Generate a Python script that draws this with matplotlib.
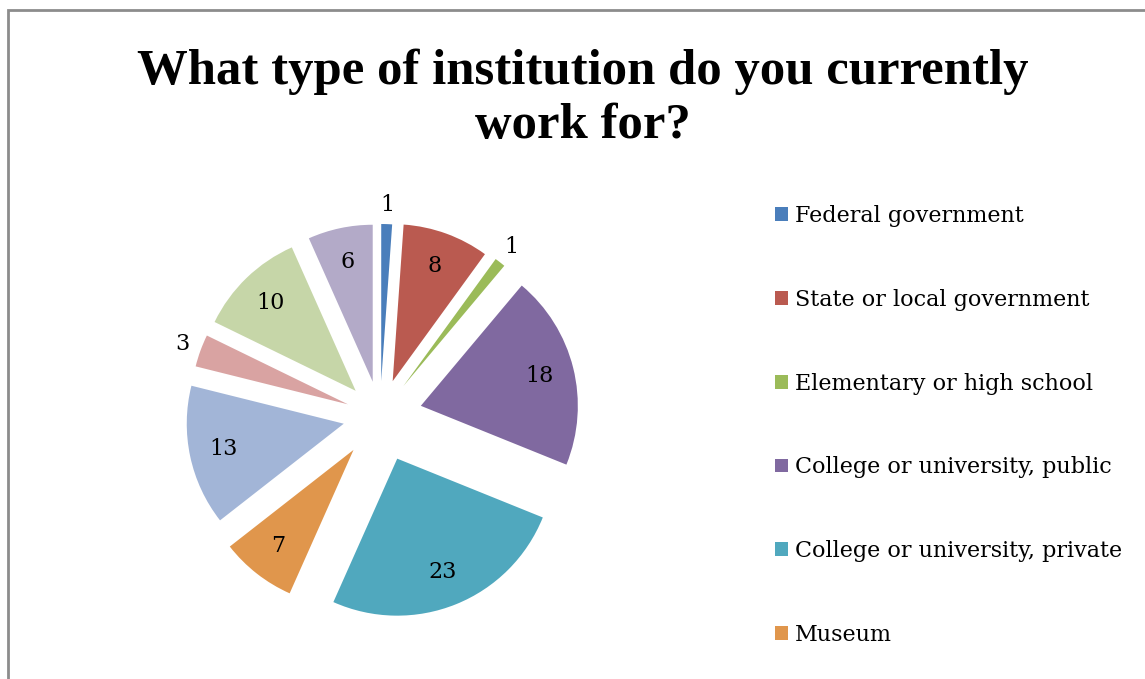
import matplotlib
matplotlib.use("Agg")
import matplotlib.pyplot as plt
from matplotlib.patches import Rectangle

# ---- data ----
title = "What type of institution do you currently\nwork for?"
categories = [
    "Federal government",
    "State or local government",
    "Elementary or high school",
    "College or university, public",
    "College or university, private",
    "Museum",
]
values = [1, 8, 1, 18, 23, 7, 13, 3, 10, 6]
colors = ["#4A7EBB", "#BA5A50", "#9BBB59", "#8069A0", "#50A8BE",
          "#E0964C", "#A2B5D7", "#D9A3A2", "#C6D6A8", "#B3AAC8"]
explode = [0.223, 0.236, 0.242, 0.268, 0.293, 0.274, 0.236, 0.217, 0.223, 0.223]

W, H = 1145, 679
fig = plt.figure(figsize=(W / 100, H / 100), dpi=100)
ax = fig.add_axes([0, 0, 1, 1])

total = sum(values)
cx, cy, R = 380, H - 416, 157

def fmt(p):
    v = p * total / 100
    return f"{v:.0f}" if v >= 5 else ""

outside = [str(v) if v < 5 else "" for v in values]
label_font = dict(family="DejaVu Serif", size=16, color="black")

wedges, texts, autotexts = ax.pie(
    values, explode=[e * R for e in explode], colors=colors, startangle=90,
    counterclock=False, center=(cx, cy), radius=R, labels=outside,
    labeldistance=1.12, autopct=fmt, pctdistance=0.78, textprops=label_font,
    wedgeprops=dict(linewidth=0),
)
for t in list(texts) + list(autotexts):
    t.set_ha("center")
    t.set_va("center")

ax.set_xlim(0, W)
ax.set_ylim(0, H)
ax.set_aspect("auto")
ax.axis("off")

# chart area border (top and left visible)
border = Rectangle((8, -20), W + 50, H - 10 + 20, fill=False,
                   edgecolor="#8C8C8C", linewidth=2, transform=ax.transData,
                   clip_on=False)
ax.add_patch(border)

# title
fig.text(583 / W, 1 - 99 / H, title, ha="center", va="center",
         family="Liberation Serif", fontweight="bold", fontsize=36.5,
         linespacing=1.22)

# legend
leg = ax.legend(wedges[:len(categories)], categories, loc="upper left",
                bbox_to_anchor=(775 / W, 1 - 205 / H), frameon=False,
                prop=dict(family="DejaVu Serif", size=16),
                handlelength=0.58, handleheight=0.58, handletextpad=0.33,
                labelspacing=2.78, borderpad=0, borderaxespad=0)

fig.savefig("out.png", dpi=100)
